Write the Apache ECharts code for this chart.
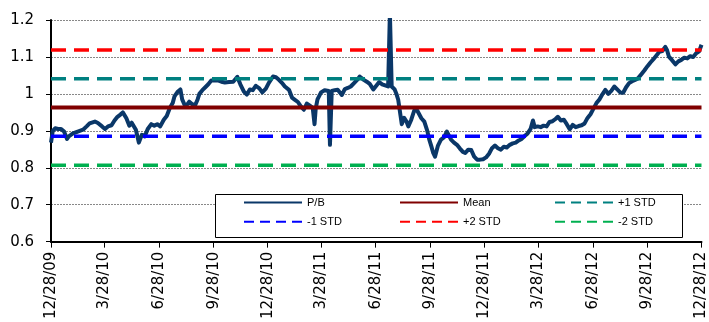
<!DOCTYPE html>
<html>
<head>
<meta charset="utf-8">
<script src="https://cdn.jsdelivr.net/npm/echarts@6/dist/echarts.min.js"></script>
<style>
  html, body { margin: 0; padding: 0; background: #fff; }
  #chart { width: 709px; height: 322px; }
</style>
</head>
<body>
<div id="chart"></div>
<script>
// x positions are days counted from 12/28/09
const tickDays = [0, 90, 182, 274, 365, 455, 547, 639, 730, 821, 913, 1005, 1096]
const tickLabels = ['12/28/09', '3/28/10', '6/28/10', '9/28/10', '12/28/10', '3/28/11', '6/28/11',
  '9/28/11', '12/28/11', '3/28/12', '6/28/12', '9/28/12', '12/28/12']

const pbDays = [0, 3, 7, 12, 17, 22, 27, 30, 37, 45, 54, 60, 65, 74, 79, 86, 91, 96, 102, 107,
  112, 117, 121, 127, 132, 136, 143, 148, 153, 158, 163, 169, 174, 179, 184, 190, 195, 200, 205, 208,
  213, 218, 221, 226, 230, 233, 238, 243, 247, 250, 255, 260, 265, 270, 273, 280, 287, 293, 300, 307,
  314, 319, 325, 330, 335, 340, 345, 351, 356, 362, 367, 374, 379, 384, 389, 394, 401, 406, 411, 416,
  421, 426, 431, 436, 441, 444, 446, 449, 455, 461, 468, 470, 473, 478, 483, 490, 495, 500, 505, 511,
  517, 520, 527, 532, 537, 543, 548, 553, 558, 563, 568, 571, 574, 579, 582, 585, 589, 591, 595, 599,
  602, 607, 612, 617, 620, 624, 629, 634, 637, 641, 644, 647, 652, 657, 662, 667, 670, 674, 679, 684,
  689, 694, 698, 703, 708, 713, 718, 723, 728, 733, 738, 743, 748, 753, 758, 763, 768, 773, 778, 783,
  788, 793, 798, 803, 808, 812, 815, 820, 825, 830, 835, 840, 845, 850, 854, 859, 864, 869, 874, 879,
  884, 889, 894, 899, 904, 909, 914, 919, 924, 929, 934, 939, 944, 949, 954, 959, 964, 969, 974, 979,
  984, 989, 995, 1000, 1005, 1010, 1015, 1020, 1025, 1030, 1035, 1038, 1041, 1046, 1052, 1057, 1062, 1067, 1072, 1077,
  1082, 1087, 1092, 1096]
const pbValues = [0.868, 0.900, 0.907, 0.905, 0.905, 0.898, 0.878, 0.885, 0.893, 0.898, 0.903, 0.912, 0.920, 0.925, 0.921, 0.912, 0.905, 0.912, 0.915, 0.928,
  0.938, 0.944, 0.950, 0.934, 0.914, 0.922, 0.903, 0.868, 0.889, 0.885, 0.905, 0.918, 0.914, 0.918, 0.912, 0.930, 0.940, 0.961, 0.975, 0.993,
  1.005, 1.012, 0.985, 0.967, 0.972, 0.979, 0.972, 0.970, 0.985, 1.000, 1.010, 1.018, 1.026, 1.036, 1.040, 1.037, 1.033, 1.031, 1.032, 1.033,
  1.046, 1.026, 1.006, 0.998, 1.012, 1.010, 1.022, 1.015, 1.004, 1.014, 1.030, 1.047, 1.045, 1.038, 1.030, 1.020, 1.011, 0.990, 0.984, 0.978,
  0.966, 0.957, 0.974, 0.968, 0.962, 0.918, 0.960, 0.985, 1.004, 1.010, 1.008, 0.862, 1.008, 1.010, 1.011, 0.997, 1.013, 1.016, 1.020, 1.030,
  1.040, 1.047, 1.038, 1.033, 1.027, 1.012, 1.022, 1.032, 1.026, 1.023, 1.020, 1.22, 1.020, 1.012, 1.000, 0.984, 0.940, 0.918, 0.935, 0.925,
  0.912, 0.930, 0.955, 0.955, 0.950, 0.934, 0.925, 0.900, 0.878, 0.857, 0.840, 0.830, 0.860, 0.876, 0.882, 0.898, 0.903, 0.876, 0.868, 0.862,
  0.852, 0.843, 0.840, 0.849, 0.848, 0.830, 0.822, 0.822, 0.823, 0.828, 0.838, 0.853, 0.860, 0.853, 0.849, 0.857, 0.855, 0.862, 0.866, 0.868,
  0.874, 0.878, 0.886, 0.893, 0.905, 0.928, 0.910, 0.912, 0.910, 0.914, 0.912, 0.924, 0.926, 0.932, 0.938, 0.928, 0.930, 0.918, 0.904, 0.916,
  0.910, 0.913, 0.915, 0.920, 0.935, 0.945, 0.960, 0.975, 0.985, 0.999, 1.011, 1.000, 1.008, 1.020, 1.012, 1.004, 1.003, 1.018, 1.029, 1.034,
  1.038, 1.042, 1.054, 1.064, 1.075, 1.085, 1.094, 1.104, 1.114, 1.116, 1.127, 1.118, 1.101, 1.092, 1.080, 1.088, 1.092, 1.098, 1.096, 1.102,
  1.100, 1.110, 1.115, 1.133]

const meanValue = 0.963
const plus1Std = 1.041
const minus1Std = 0.885
const plus2Std = 1.119
const minus2Std = 0.807

const lastDay = tickDays[tickDays.length - 1]
const flat = v => [[0, v], [lastDay, v]]

let myChart = echarts.init(document.getElementById('chart'))

const axisFont = 'DejaVu Sans, sans-serif'
const legendFont = 'Liberation Sans, Arial, sans-serif'
const legendBase = {
  orient: 'vertical', top: 197, padding: 0, itemGap: 8, itemWidth: 58, itemHeight: 14,
  itemStyle: { color: 'transparent', borderWidth: 0, opacity: 0 },
  textStyle: { fontFamily: legendFont, fontSize: 11, color: '#000' }, z: 6
}
const dashLegend = { type: [10, 6], width: 2 }
const solidLegend = { width: 2 }

myChart.setOption({
  animation: false,
  backgroundColor: '#fff',
  grid: { left: 51, right: 5, top: 20, bottom: 80 },
  graphic: [{
    type: 'rect', z: 5, left: 215, top: 194,
    shape: { width: 467, height: 43 },
    style: { fill: '#fff', stroke: '#000', lineWidth: 1 }
  }],
  legend: [
    Object.assign({}, legendBase, { left: 243, data: [
      { name: 'P/B', lineStyle: solidLegend }, { name: '-1 STD', lineStyle: dashLegend }] }),
    Object.assign({}, legendBase, { left: 399, data: [
      { name: 'Mean', lineStyle: solidLegend }, { name: '+2 STD', lineStyle: dashLegend }] }),
    Object.assign({}, legendBase, { left: 554, data: [
      { name: '+1 STD', lineStyle: dashLegend }, { name: '-2 STD', lineStyle: dashLegend }] })
  ],
  xAxis: {
    type: 'value', min: 0, max: lastDay,
    axisLine: { lineStyle: { color: '#000', width: 2 } },
    axisTick: { customValues: tickDays, length: 6, lineStyle: { color: '#000', width: 1 } },
    axisLabel: {
      customValues: tickDays, rotate: 90, margin: 10,
      fontFamily: axisFont, fontSize: 15, color: '#000',
      formatter: v => tickLabels[tickDays.indexOf(v)]
    },
    splitLine: { show: false }
  },
  yAxis: {
    type: 'value', min: 0.6, max: 1.2, interval: 0.1,
    axisLine: { show: true, lineStyle: { color: '#000', width: 2 } },
    axisTick: { show: true, length: 5, lineStyle: { color: '#000' } },
    axisLabel: { margin: 17, fontFamily: axisFont, fontSize: 15, color: '#000' },
    splitLine: { lineStyle: { color: '#888', width: 1, type: [2, 1] } }
  },
  series: [
    { name: 'P/B', type: 'line', symbol: 'none', color: '#0a3768',
      lineStyle: { width: 4, color: '#0a3768', join: 'round' },
      data: pbDays.map((d, i) => [d, pbValues[i]]) },
    { name: 'Mean', type: 'line', symbol: 'none', color: '#800000',
      lineStyle: { width: 4, color: '#800000' }, data: flat(meanValue) },
    { name: '+1 STD', type: 'line', symbol: 'none', color: '#008080',
      lineStyle: { width: 3.5, color: '#008080', type: [15, 8] }, data: flat(plus1Std) },
    { name: '-1 STD', type: 'line', symbol: 'none', color: '#0000ff',
      lineStyle: { width: 3.5, color: '#0000ff', type: [15, 8] }, data: flat(minus1Std) },
    { name: '+2 STD', type: 'line', symbol: 'none', color: '#ff0000',
      lineStyle: { width: 3.5, color: '#ff0000', type: [15, 8] }, data: flat(plus2Std) },
    { name: '-2 STD', type: 'line', symbol: 'none', color: '#00b050',
      lineStyle: { width: 3.5, color: '#00b050', type: [15, 8] }, data: flat(minus2Std) }
  ]
})
</script>
</body>
</html>
